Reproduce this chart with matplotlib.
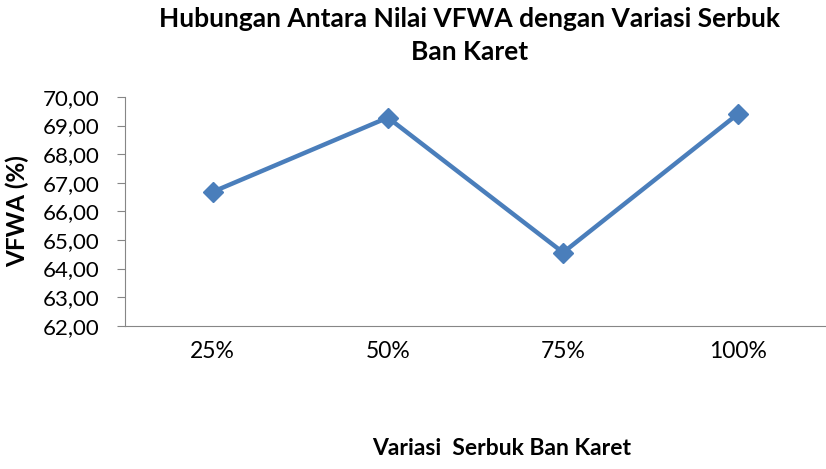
import matplotlib
matplotlib.use('Agg')
import matplotlib.pyplot as plt

# data
categories = ['25%', '50%', '75%', '100%']
vfwa = [66.68, 69.28, 64.56, 69.42]
yticks = [62, 63, 64, 65, 66, 67, 68, 69, 70]
ytick_labels = ['%.2f' % v for v in yticks]
ytick_labels = [s.replace('.', ',') for s in ytick_labels]

plt.rcParams['font.family'] = ['Lato', 'DejaVu Sans']

fig = plt.figure(figsize=(8.26, 4.69), dpi=100)
ax = fig.add_axes([0.1513, 0.3055, 0.8487, 0.4877])

x = list(range(len(categories)))
ax.plot(x, vfwa, color='#4A7EBB', lw=3.2, marker='D', markersize=10,
        markerfacecolor='#4A7EBB', markeredgecolor='#4A7EBB')

ax.set_xlim(-0.5, len(categories) - 0.5)
ax.set_ylim(62, 70)
ax.set_yticks(yticks)
ax.set_yticklabels(ytick_labels, fontsize=16)
ax.set_xticks(x)
ax.set_xticklabels(categories, fontsize=16.5)
ax.tick_params(axis='x', length=0, pad=11)
ax.tick_params(axis='y', length=6, color='#868686', pad=12)

for s in ['top', 'right']:
    ax.spines[s].set_visible(False)
ax.spines['left'].set_color('#868686')
ax.spines['bottom'].set_color('#868686')

fig.text(0.021, 0.55, 'VFWA (%)', rotation=90, ha='center', va='center',
         fontsize=17.5, fontweight='bold')
fig.text(0.607, 0.022, 'Variasi  Serbuk Ban Karet', ha='center', va='bottom',
         fontsize=16.5, fontweight='bold')
fig.text(0.568, 0.985, 'Hubungan Antara Nilai VFWA dengan Variasi Serbuk\nBan Karet',
         ha='center', va='top', fontsize=19, fontweight='bold', linespacing=1.45)

fig.savefig('out.png', dpi=100)
